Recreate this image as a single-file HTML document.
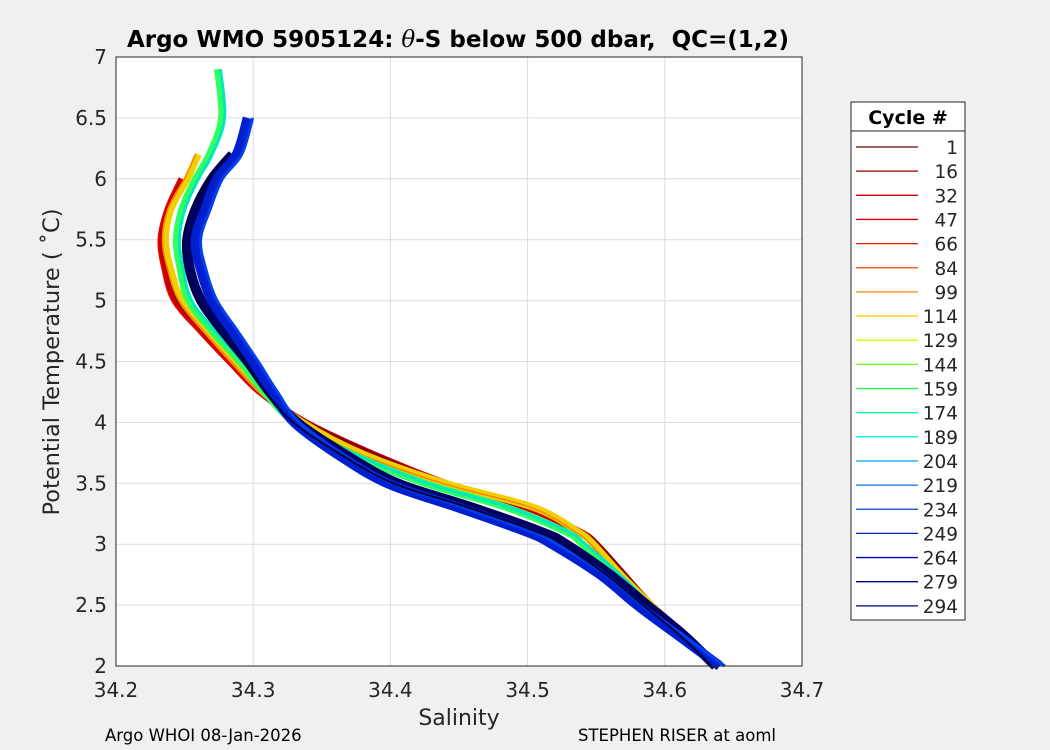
<!DOCTYPE html>
<html><head><meta charset="utf-8"><style>
body{margin:0;background:#f0f0f0;}
svg{display:block;font-family:"DejaVu Sans","Liberation Sans",sans-serif;}
</style></head><body>
<svg id="c" width="1050" height="750">
<rect x="116" y="57" width="686" height="609" fill="#fff"/>
<g id="grid"></g><g id="lines"></g><g id="axes"></g>
<text x="458" y="47" text-anchor="middle" font-size="23" font-weight="bold">Argo WMO 5905124: <tspan font-style="italic" font-weight="normal" font-family="DejaVu Serif,serif">θ</tspan>-S below 500 dbar,&#160; QC=(1,2)</text>
<text x="459" y="725" text-anchor="middle" font-size="22" fill="#262626">Salinity</text>
<text transform="translate(59,362) rotate(-90)" text-anchor="middle" font-size="22.5" fill="#262626">Potential Temperature ( ˚C)</text>
<text x="105" y="741" font-size="16.5">Argo WHOI 08-Jan-2026</text>
<text x="578" y="741" font-size="16.5">STEPHEN RISER at aoml</text>
<g id="legend"></g>
</svg>
<script>
const temps=[6.9,6.5,6.2,6.0,5.75,5.5,5.25,5.0,4.75,4.5,4.25,4.0,3.75,3.5,3.3,3.1,3.0,2.75,2.5,2.25,2.0];
const salRed=[null,null,null,34.248,34.238,34.233,34.236,34.243,34.262,34.283,34.305,34.338,34.385,34.44,34.5,34.538,34.55,34.57,34.59,34.615,34.637];
const salYellow=[null,null,34.26,34.252,34.24,34.236,34.24,34.248,34.266,34.286,34.307,34.336,34.378,34.44,34.505,34.537,34.548,34.568,34.59,34.613,34.637];
const salGreen=[34.274,34.277,34.268,34.258,34.248,34.244,34.247,34.253,34.27,34.29,34.308,34.33,34.37,34.425,34.485,34.528,34.54,34.565,34.588,34.613,34.638];
const salNavy=[null,null,34.285,34.27,34.258,34.252,34.254,34.262,34.278,34.296,34.312,34.332,34.365,34.405,34.46,34.51,34.528,34.56,34.587,34.614,34.637];
const salBlue=[null,34.296,34.288,34.274,34.265,34.258,34.262,34.27,34.285,34.3,34.314,34.33,34.36,34.398,34.45,34.5,34.518,34.553,34.58,34.61,34.64];
const cycles=["1","16","32","47","66","84","99","114","129","144","159","174","189","204","219","234","249","264","279","294"];
const cycleColors=["#6a0000","#8a0000","#d00000","#e00000","#ee1a00","#f04400","#f58a00","#ffd000","#d4ff00","#70ff10","#20ff40","#00ff90","#00f0e0","#10b0f0","#1070e0","#0040e0","#0020d0","#0000c0","#000090","#000070"];
const xTicks=[34.2,34.3,34.4,34.5,34.6,34.7];
const yTicks=[2,2.5,3,3.5,4,4.5,5,5.5,6,6.5,7];
const X=s=>116+(s-34.2)/0.5*686, Y=t=>666-(t-2)/5*609;
const NS="http://www.w3.org/2000/svg";
function mk(p,tag,a){const e=document.createElementNS(NS,tag);for(const k in a)e.setAttribute(k,a[k]);p.appendChild(e);return e;}
const G=document.getElementById('grid'),A=document.getElementById('axes'),L=document.getElementById('lines'),LG=document.getElementById('legend');
xTicks.forEach(v=>{const x=X(v);
 const g=mk(G,'line',{x1:x,x2:x,y1:57,y2:666,stroke:'#dcdcdc'});
 
 
 const t=mk(A,'text',{x:x,y:697,'text-anchor':'middle','font-size':20,fill:'#262626'});t.textContent=v.toFixed(1);
 
 });
yTicks.forEach(v=>{const y=Y(v);
 const g=mk(G,'line',{x1:116,x2:802,y1:y,y2:y,stroke:'#dcdcdc'});
 
 
 const t=mk(A,'text',{x:107,y:y+7,'text-anchor':'end','font-size':20,fill:'#262626'});t.textContent=String(v);
 
 });
mk(A,'rect',{x:116,y:57,width:686,height:609,fill:'none',stroke:'#262626'});
function path(sal,color,w,dx){const P=[];sal.forEach((s,i)=>{if(s!=null)P.push([X(s)+dx,Y(temps[i])]);});
 let d='M'+P[0][0].toFixed(1)+','+P[0][1].toFixed(1);
 for(let i=0;i<P.length-1;i++){const p0=P[Math.max(0,i-1)],p1=P[i],p2=P[i+1],p3=P[Math.min(P.length-1,i+2)];
  const c1=[p1[0]+(p2[0]-p0[0])/6,p1[1]+(p2[1]-p0[1])/6],c2=[p2[0]-(p3[0]-p1[0])/6,p2[1]-(p3[1]-p1[1])/6];
  d+='C'+c1.map(v=>v.toFixed(1)).join(',')+' '+c2.map(v=>v.toFixed(1)).join(',')+' '+p2.map(v=>v.toFixed(1)).join(',');}
 const p=mk(L,'path',{d:d,fill:'none',stroke:color,'stroke-width':w,'stroke-linejoin':'round'});
 
 }
path(salRed,'#c00000',7,0);path(salRed,'#800000',2,3);path(salRed,'#f00000',1.5,-3);
path(salYellow,'#f0d000',7,0);path(salYellow,'#ff8000',1.5,-3);
path(salGreen,'#30ff60',7,0);path(salGreen,'#00e8c0',3,3);
path(salNavy,'#000060',10,0);
path(salBlue,'#0020d0',10,0);path(salBlue,'#0040f0',3,5);path(salNavy,'#000040',2,-4);
const bx=851,by=102,bw=114,bh=518;
mk(LG,'rect',{x:bx,y:by,width:bw,height:bh,fill:'#fff',stroke:'#262626'});
mk(LG,'line',{x1:bx,x2:bx+bw,y1:131,y2:131,stroke:'#262626'});
const ht=mk(LG,'text',{x:bx+bw/2,y:124,'text-anchor':'middle','font-size':19,'font-weight':'bold'});ht.textContent='Cycle #';


cycles.forEach((c,i)=>{const y=147+i*24.15;
 const l=mk(LG,'line',{x1:856,x2:918,y1:y,y2:y,stroke:cycleColors[i],'stroke-width':1.3});
 
 
 const t=mk(LG,'text',{x:958,y:y+7,'text-anchor':'end','font-size':18.5,fill:'#262626'});t.textContent=c;
 
 });
</script>
</body></html>
